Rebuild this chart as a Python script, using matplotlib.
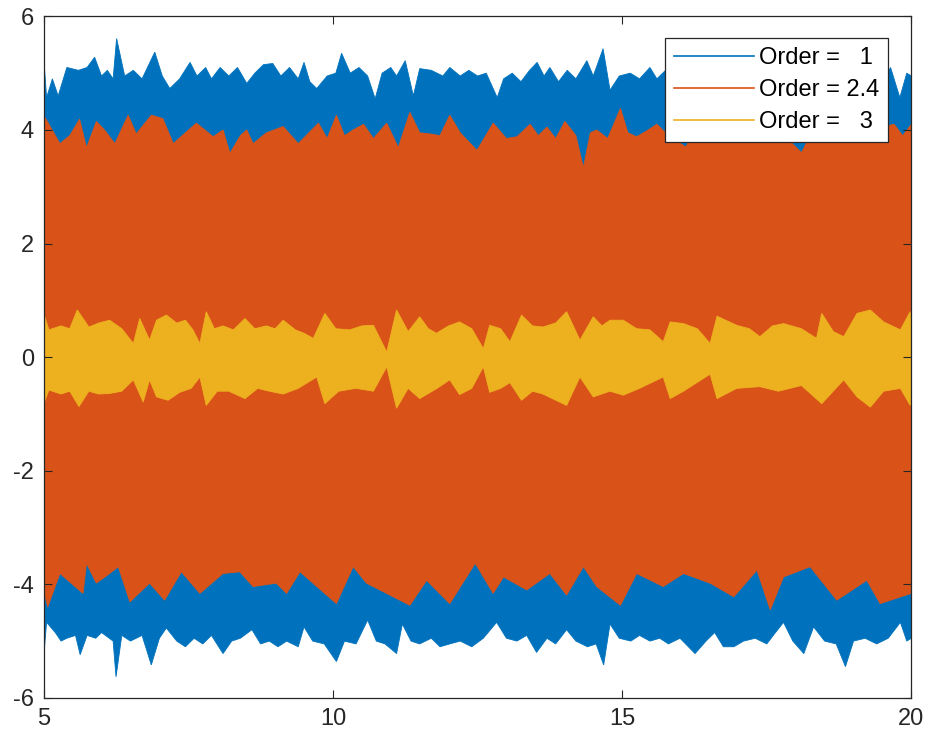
import numpy as np
import matplotlib
matplotlib.use("Agg")
from matplotlib import pyplot as plt
from matplotlib.lines import Line2D

# envelope of each signal: (t, value) knots
order1_upper = [(5.0, 5.28), (5.05, 4.57), (5.15, 4.9), (5.25, 4.6), (5.4, 5.1), (5.6, 5.05), (5.75, 5.1),
                (5.88, 5.28), (6.0, 4.95), (6.1, 5.05), (6.2, 4.9), (6.26, 5.61), (6.4, 4.95), (6.55, 5.05),
                (6.7, 4.9), (6.92, 5.37), (7.05, 4.95), (7.18, 4.73), (7.35, 4.9), (7.53, 5.19), (7.65, 4.95),
                (7.8, 5.1), (7.9, 4.9), (8.05, 5.1), (8.2, 4.95), (8.35, 5.1), (8.51, 4.82), (8.65, 5.0),
                (8.8, 5.15), (8.96, 5.17), (9.1, 4.95), (9.25, 5.1), (9.4, 4.9), (9.5, 5.19), (9.6, 4.85),
                (9.72, 4.73), (9.9, 4.95), (10.05, 5.0), (10.15, 5.35), (10.3, 5.0), (10.45, 5.1), (10.6, 4.95),
                (10.73, 4.55), (10.85, 5.0), (11.0, 5.1), (11.1, 4.95), (11.25, 5.22), (11.39, 4.6), (11.5, 5.08),
                (11.7, 5.05), (11.9, 4.95), (12.02, 5.1), (12.2, 4.95), (12.35, 5.05), (12.5, 4.95), (12.65, 5.0),
                (12.84, 4.57), (12.95, 4.9), (13.1, 5.0), (13.25, 4.85), (13.4, 5.05), (13.53, 5.19), (13.65, 4.95),
                (13.75, 5.1), (13.9, 4.85), (14.05, 5.05), (14.2, 4.9), (14.39, 5.22), (14.5, 4.95), (14.67, 5.43),
                (14.79, 4.7), (14.95, 4.95), (15.14, 5.0), (15.3, 4.9), (15.48, 5.1), (15.6, 4.9), (15.75, 5.05),
                (16.0, 4.9), (16.3, 5.05), (16.6, 4.85), (16.9, 5.1), (17.2, 4.9), (17.5, 5.05), (17.8, 4.85),
                (18.1, 5.0), (18.4, 4.9), (18.7, 5.05), (19.0, 4.9), (19.3, 5.0), (19.5, 4.85), (19.64, 5.1),
                (19.8, 4.57), (19.92, 5.0), (20.0, 4.95)]
order1_lower = [(5.0, -5.28), (5.05, -4.67), (5.2, -4.85), (5.3, -5.0), (5.4, -4.95), (5.55, -4.9), (5.63, -5.24),
                (5.75, -4.9), (5.9, -4.95), (6.0, -4.85), (6.2, -5.0), (6.25, -5.63), (6.35, -4.9), (6.5, -5.0),
                (6.7, -4.9), (6.86, -5.42), (7.0, -4.95), (7.12, -4.77), (7.3, -5.0), (7.45, -5.1), (7.6, -4.95),
                (7.75, -5.05), (7.9, -4.9), (8.1, -5.22), (8.25, -5.0), (8.4, -4.95), (8.6, -4.8), (8.75, -5.05),
                (8.9, -5.0), (9.05, -5.1), (9.2, -5.0), (9.4, -5.1), (9.5, -4.75), (9.65, -5.0), (9.85, -5.05),
                (10.06, -5.36), (10.2, -5.0), (10.4, -5.05), (10.6, -4.63), (10.75, -5.0), (10.9, -5.05),
                (11.1, -5.22), (11.2, -4.7), (11.35, -5.0), (11.5, -5.05), (11.7, -4.95), (11.85, -5.1),
                (12.02, -5.05), (12.2, -5.0), (12.4, -5.1), (12.6, -4.95), (12.83, -4.67), (13.0, -4.95),
                (13.18, -5.0), (13.35, -4.9), (13.52, -5.2), (13.7, -4.95), (13.85, -5.05), (14.04, -4.8),
                (14.2, -5.0), (14.4, -5.1), (14.55, -5.05), (14.68, -5.42), (14.79, -4.7), (14.95, -4.95),
                (15.15, -5.0), (15.3, -4.9), (15.48, -5.0), (15.65, -4.95), (15.8, -5.05), (16.0, -4.95),
                (16.26, -5.22), (16.45, -5.0), (16.6, -4.85), (16.75, -5.1), (16.93, -5.1), (17.1, -5.0),
                (17.3, -4.95), (17.5, -5.05), (17.65, -4.85), (17.79, -4.67), (17.95, -5.0), (18.14, -5.22),
                (18.31, -4.75), (18.5, -5.0), (18.7, -5.05), (18.86, -5.45), (19.0, -5.0), (19.2, -4.95),
                (19.4, -5.05), (19.6, -4.95), (19.81, -4.67), (19.92, -5.0), (20.0, -4.95)]

order24_upper = [(5.0, 4.26), (5.28, 3.76), (5.45, 3.9), (5.62, 4.19), (5.74, 3.69), (5.91, 4.15), (6.05, 4.0),
                 (6.23, 3.76), (6.46, 4.26), (6.6, 3.93), (6.86, 4.26), (7.06, 4.2), (7.24, 3.76), (7.45, 3.95),
                 (7.64, 4.12), (7.93, 3.88), (8.1, 4.0), (8.22, 3.59), (8.4, 3.9), (8.51, 4.0), (8.62, 3.76),
                 (8.85, 3.95), (9.14, 4.06), (9.4, 3.76), (9.75, 4.12), (9.9, 3.85), (10.06, 4.26), (10.2, 3.9),
                 (10.35, 4.0), (10.53, 4.1), (10.7, 3.85), (10.93, 4.12), (11.13, 3.69), (11.33, 4.31),
                 (11.5, 3.95), (11.68, 3.93), (11.85, 3.9), (12.02, 4.26), (12.2, 3.95), (12.49, 3.64),
                 (12.77, 4.12), (13.0, 3.85), (13.18, 3.88), (13.41, 4.1), (13.55, 3.9), (13.7, 4.05),
                 (13.85, 3.85), (14.01, 4.15), (14.2, 3.9), (14.33, 3.34), (14.45, 3.95), (14.56, 4.0),
                 (14.75, 3.85), (14.97, 4.38), (15.1, 3.95), (15.25, 3.88), (15.45, 4.0), (15.6, 4.1),
                 (15.8, 3.9), (16.1, 3.7), (16.3, 4.05), (16.6, 3.9), (16.9, 4.1), (17.2, 3.85), (17.5, 4.05),
                 (17.8, 3.9), (18.1, 3.6), (18.3, 4.0), (18.6, 3.85), (18.9, 4.05), (19.2, 3.9), (19.5, 4.05),
                 (19.7, 4.1), (19.85, 3.9), (20.0, 4.1)]
order24_lower = [(5.0, -4.1), (5.07, -4.4), (5.28, -3.81), (5.68, -4.16), (5.74, -3.63), (5.91, -3.98),
                 (6.14, -3.81), (6.29, -3.69), (6.49, -4.31), (6.83, -3.98), (7.09, -4.28), (7.38, -3.78),
                 (7.7, -4.16), (8.1, -3.81), (8.39, -3.78), (8.62, -4.04), (9.02, -3.98), (9.2, -4.16),
                 (9.43, -3.78), (10.06, -4.34), (10.35, -3.69), (10.58, -3.98), (11.33, -4.37), (11.62, -3.93),
                 (12.02, -4.34), (12.46, -3.63), (12.77, -4.16), (12.95, -3.87), (13.35, -4.1), (13.75, -3.81),
                 (14.04, -4.19), (14.33, -3.69), (14.56, -4.04), (14.97, -4.37), (15.25, -3.81), (15.71, -4.04),
                 (16.06, -3.81), (16.52, -3.98), (16.93, -4.22), (17.33, -3.75), (17.56, -4.45), (17.79, -3.87),
                 (18.25, -3.69), (18.71, -4.28), (19.23, -3.93), (19.46, -4.34), (20.0, -4.16)]

order3_upper = [(5.0, 0.77), (5.09, 0.48), (5.3, 0.55), (5.45, 0.5), (5.58, 0.83), (5.78, 0.53), (5.95, 0.6),
                (6.14, 0.65), (6.35, 0.5), (6.55, 0.24), (6.66, 0.68), (6.83, 0.3), (6.95, 0.65), (7.12, 0.74),
                (7.3, 0.6), (7.45, 0.65), (7.58, 0.48), (7.7, 0.24), (7.81, 0.8), (7.95, 0.5), (8.1, 0.55),
                (8.28, 0.48), (8.48, 0.68), (8.65, 0.5), (8.85, 0.55), (9.0, 0.5), (9.14, 0.65), (9.35, 0.48),
                (9.5, 0.42), (9.66, 0.33), (9.86, 0.77), (10.05, 0.5), (10.29, 0.48), (10.5, 0.55), (10.7, 0.56),
                (10.93, 0.09), (11.1, 0.83), (11.3, 0.45), (11.5, 0.71), (11.65, 0.5), (11.79, 0.42), (12.0, 0.55),
                (12.19, 0.62), (12.4, 0.5), (12.6, 0.15), (12.71, 0.56), (12.9, 0.5), (13.06, 0.27), (13.26, 0.74),
                (13.45, 0.55), (13.63, 0.53), (13.85, 0.6), (14.04, 0.8), (14.27, 0.3), (14.5, 0.71), (14.65, 0.55),
                (14.79, 0.65), (15.02, 0.65), (15.25, 0.5), (15.48, 0.48), (15.71, 0.27), (15.83, 0.62),
                (16.06, 0.59), (16.3, 0.5), (16.52, 0.24), (16.64, 0.72), (16.98, 0.56), (17.2, 0.5), (17.38, 0.36),
                (17.6, 0.55), (17.79, 0.59), (18.1, 0.5), (18.36, 0.33), (18.45, 0.77), (18.65, 0.45),
                (18.83, 0.36), (19.06, 0.77), (19.29, 0.83), (19.52, 0.62), (19.81, 0.48), (19.98, 0.8), (20.0, 0.6)]
order3_lower = [(5.0, -0.82), (5.09, -0.58), (5.3, -0.65), (5.45, -0.6), (5.61, -0.87), (5.78, -0.6), (5.95, -0.65),
                (6.14, -0.64), (6.35, -0.6), (6.55, -0.4), (6.72, -0.79), (6.83, -0.4), (6.95, -0.7), (7.15, -0.76),
                (7.35, -0.62), (7.55, -0.55), (7.7, -0.35), (7.81, -0.85), (8.0, -0.6), (8.2, -0.6), (8.48, -0.73),
                (8.7, -0.55), (8.9, -0.6), (9.14, -0.65), (9.4, -0.55), (9.72, -0.35), (9.86, -0.82), (10.1, -0.6),
                (10.4, -0.55), (10.7, -0.6), (10.93, -0.17), (11.1, -0.9), (11.3, -0.55), (11.5, -0.73),
                (11.8, -0.55), (12.02, -0.4), (12.19, -0.66), (12.4, -0.55), (12.6, -0.17), (12.71, -0.62),
                (12.9, -0.55), (13.06, -0.45), (13.26, -0.76), (13.45, -0.6), (13.63, -0.65), (14.04, -0.85),
                (14.27, -0.35), (14.5, -0.7), (14.79, -0.6), (15.02, -0.67), (15.3, -0.55), (15.71, -0.35),
                (15.83, -0.73), (16.06, -0.6), (16.52, -0.3), (16.64, -0.73), (16.98, -0.55), (17.38, -0.52),
                (17.7, -0.6), (18.1, -0.5), (18.45, -0.82), (18.83, -0.4), (19.06, -0.7), (19.29, -0.88),
                (19.52, -0.6), (19.81, -0.55), (19.98, -0.85), (20.0, -0.7)]

labels = ['Order =   1', 'Order = 2.4', 'Order =   3']
colors = ['#0072BD', '#D95319', '#EDB120']

plt.rcParams['font.family'] = ['Liberation Sans', 'DejaVu Sans']
plt.rcParams['axes.unicode_minus'] = False

fig = plt.figure(figsize=(9.3, 7.44), dpi=100)
ax = fig.add_axes([0.047, 0.062, 0.933, 0.916])

bands = [(order1_upper, order1_lower), (order24_upper, order24_lower), (order3_upper, order3_lower)]
for (up, lo), c in zip(bands, colors):
    up = np.array(up)
    lo = np.array(lo)
    xs = np.r_[up[:, 0], lo[::-1, 0]]
    ys = np.r_[up[:, 1], lo[::-1, 1]]
    ax.fill(xs, ys, color=c, lw=0.6)

ax.set_xlim(5, 20)
ax.set_ylim(-6, 6)
ax.set_xticks([5, 10, 15, 20])
ax.set_yticks([-6, -4, -2, 0, 2, 4, 6])
ax.tick_params(direction='in', top=True, right=True, length=6, width=0.8,
               labelsize=17, colors='#262626', pad=7)
for s in ax.spines.values():
    s.set_color('#262626')
    s.set_linewidth(0.9)

handles = [Line2D([0], [0], color=c, lw=1.2) for c in colors]
leg = ax.legend(handles, labels, loc='upper right', bbox_to_anchor=(0.973, 0.968),
                borderaxespad=0, fancybox=False, framealpha=1, edgecolor='#262626',
                fontsize=17, handlelength=3.4, handletextpad=0.2, labelspacing=0.42,
                borderpad=0.38)
leg.get_frame().set_linewidth(0.9)

fig.savefig('out.png', dpi=100)
